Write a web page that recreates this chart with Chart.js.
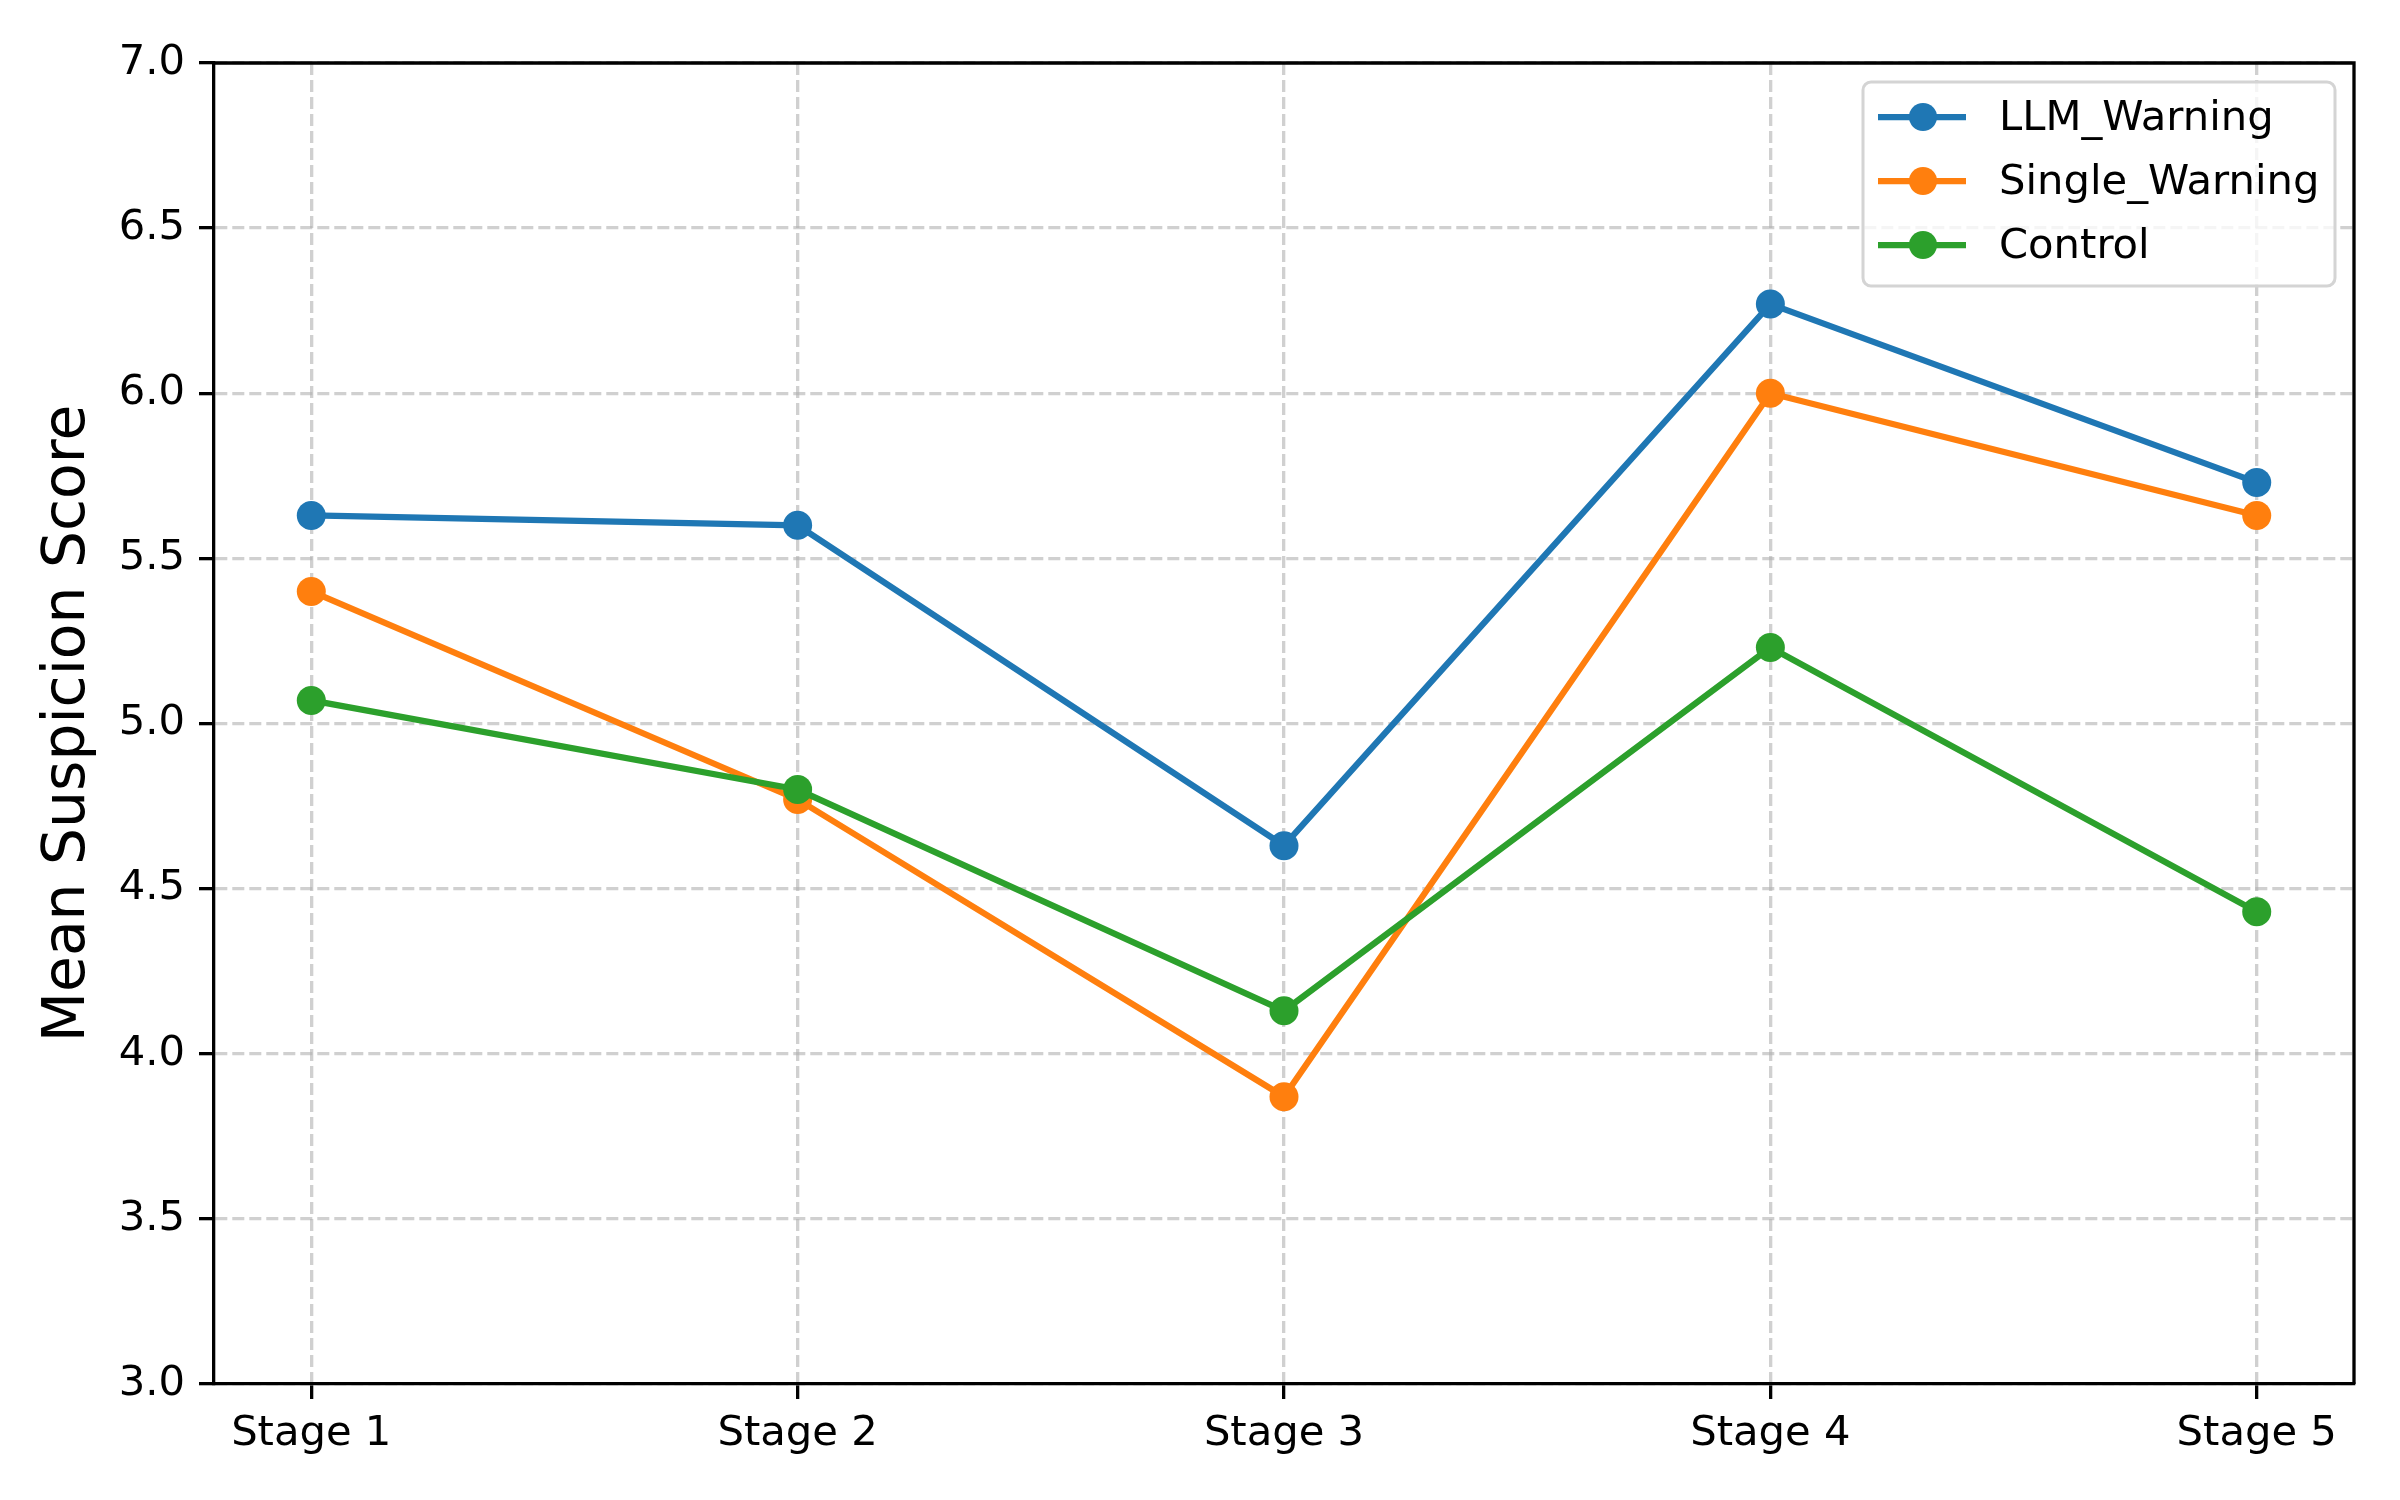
<!DOCTYPE html>
<html>
<head>
<meta charset="utf-8">
<script src="https://cdn.jsdelivr.net/npm/chart.js@4.4.0/dist/chart.umd.min.js"></script>
<style>
  body { margin: 0; background: #ffffff; }
  #wrap { width: 2400px; height: 1500px; }
</style>
</head>
<body>
<div id="wrap"><canvas id="chart" width="2400" height="1500"></canvas></div>
<script>
// data
const stages = ['Stage 1', 'Stage 2', 'Stage 3', 'Stage 4', 'Stage 5'];
const llmWarning = [5.63, 5.60, 4.63, 6.27, 5.73];
const singleWarning = [5.40, 4.77, 3.87, 6.00, 5.63];
const control = [5.07, 4.80, 4.13, 5.23, 4.43];
const seriesNames = ['LLM_Warning', 'Single_Warning', 'Control'];
const yTicks = [3.0, 3.5, 4.0, 4.5, 5.0, 5.5, 6.0, 6.5, 7.0];

const colors = ['#1f77b4', '#ff7f0e', '#2ca02c'];
const font = 'DejaVu Sans';

function toPoints(arr) {
    return arr.map((v, i) => ({ x: i, y: v }));
}

const allSeries = [llmWarning, singleWarning, control];
const datasets = allSeries.map((s, i) => ({
    label: seriesNames[i],
    data: toPoints(s),
    borderColor: colors[i],
    backgroundColor: colors[i],
    pointBackgroundColor: colors[i],
    pointBorderWidth: 0,
    pointRadius: 14.5,
    borderWidth: 6.25,
    tension: 0,
    order: 2 - i // later series on top, like matplotlib
}));

// top + right spines
const boxPlugin = {
    id: 'box',
    afterDraw(chart) {
        const a = chart.chartArea;
        const ctx = chart.ctx;
        ctx.save();
        ctx.strokeStyle = '#000000';
        ctx.lineWidth = 3.3;
        ctx.beginPath();
        ctx.moveTo(a.left, a.top);
        ctx.lineTo(a.right, a.top);
        ctx.lineTo(a.right, a.bottom);
        ctx.stroke();
        ctx.restore();
    }
};

// matplotlib style legend in the upper right corner
const legendPlugin = {
    id: 'mplLegend',
    afterDraw(chart) {
        const a = chart.chartArea;
        const ctx = chart.ctx;
        const w = 472, h = 204;
        const x0 = a.right - 19 - w;
        const y0 = a.top + 19;
        ctx.save();
        ctx.beginPath();
        ctx.roundRect(x0, y0, w, h, 8);
        ctx.fillStyle = 'rgba(255,255,255,0.8)';
        ctx.fill();
        ctx.strokeStyle = '#d4d4d4';
        ctx.lineWidth = 3;
        ctx.stroke();
        ctx.font = '41.7px "' + font + '"';
        ctx.textBaseline = 'middle';
        chart.data.datasets.forEach((ds, i) => {
            const y = y0 + 35 + i * 64;
            ctx.strokeStyle = ds.borderColor;
            ctx.lineWidth = 6.25;
            ctx.beginPath();
            ctx.moveTo(x0 + 15, y);
            ctx.lineTo(x0 + 103, y);
            ctx.stroke();
            ctx.fillStyle = ds.borderColor;
            ctx.beginPath();
            ctx.arc(x0 + 60, y, 14, 0, Math.PI * 2);
            ctx.fill();
            ctx.fillStyle = '#000000';
            ctx.fillText(ds.label, x0 + 136, y + 2);
        });
        ctx.restore();
    }
};

const ctx = document.getElementById('chart').getContext('2d');
const chart = new Chart(ctx, {
    type: 'line',
    data: { datasets: datasets },
    options: {
        responsive: false,
        animation: false,
        layout: { padding: { left: 0, top: 63, right: 46, bottom: 0 } },
        plugins: {
            legend: { display: false },
            tooltip: { enabled: false }
        },
        scales: {
            x: {
                type: 'linear',
                min: -0.2,
                max: 4.2,
                afterBuildTicks: (scale) => {
                    scale.ticks = stages.map((s, i) => ({ value: i }));
                },
                afterFit: (scale) => { scale.height = 116; },
                ticks: {
                    callback: (v) => stages[v],
                    color: '#000000',
                    font: { family: font, size: 41.7 },
                    padding: 10,
                    maxRotation: 0,
                    autoSkip: false
                },
                grid: {
                    color: 'rgba(176,176,176,0.6)',
                    lineWidth: 3.3,
                    tickLength: 15,
                    tickColor: '#000000',
                    tickWidth: 3.3,
                    tickBorderDash: []
                },
                border: { display: true, color: '#000000', width: 3.3, dash: [12, 5] }
            },
            y: {
                min: 3,
                max: 7,
                afterBuildTicks: (scale) => {
                    scale.ticks = yTicks.map(v => ({ value: v }));
                },
                afterFit: (scale) => { scale.width = 214; },
                ticks: {
                    callback: (v) => v.toFixed(1),
                    color: '#000000',
                    font: { family: font, size: 41.7 },
                    padding: 14
                },
                grid: {
                    color: 'rgba(176,176,176,0.6)',
                    lineWidth: 3.3,
                    tickLength: 15,
                    tickColor: '#000000',
                    tickWidth: 3.3,
                    tickBorderDash: []
                },
                border: { display: true, color: '#000000', width: 3.3, dash: [12, 5] },
                title: {
                    display: true,
                    text: 'Mean Suspicion Score',
                    color: '#000000',
                    font: { family: font, size: 58.3 },
                    padding: { top: 34, bottom: 0 }
                }
            }
        }
    },
    plugins: [boxPlugin, legendPlugin]
});
</script>
</body>
</html>
